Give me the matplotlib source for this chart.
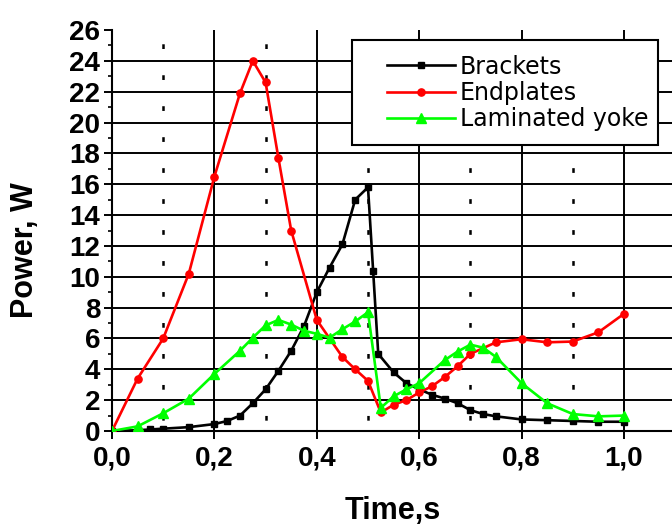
import matplotlib
matplotlib.use("Agg")
import matplotlib.pyplot as plt
from matplotlib.ticker import MultipleLocator, FuncFormatter, FixedLocator
from matplotlib.patches import Rectangle

plt.rcParams['lines.scale_dashes'] = False

# ---- data ----
brackets_t = [0, 0.05, 0.075, 0.1, 0.15, 0.2, 0.225, 0.25, 0.275, 0.3, 0.325, 0.35,
              0.375, 0.4, 0.425, 0.45, 0.475, 0.5, 0.51, 0.52, 0.55, 0.575, 0.6,
              0.625, 0.65, 0.675, 0.7, 0.725, 0.75, 0.8, 0.85, 0.9, 0.95, 1.0]
brackets_p = [0, 0.05, 0.1, 0.15, 0.25, 0.45, 0.65, 1.0, 1.8, 2.7, 3.9, 5.2,
              6.8, 9.0, 10.6, 12.1, 15.0, 15.8, 10.4, 5.0, 3.8, 3.1, 2.7,
              2.35, 2.1, 1.8, 1.35, 1.1, 0.95, 0.75, 0.7, 0.65, 0.6, 0.6]

endplates_t = [0, 0.05, 0.1, 0.15, 0.2, 0.25, 0.275, 0.3, 0.325, 0.35, 0.4, 0.45,
               0.475, 0.5, 0.525, 0.55, 0.575, 0.6, 0.625, 0.65, 0.675, 0.7,
               0.75, 0.8, 0.85, 0.9, 0.95, 1.0]
endplates_p = [0, 3.4, 6.0, 10.2, 16.5, 21.9, 24.0, 22.6, 17.7, 13.0, 7.2, 4.8,
               4.0, 3.25, 1.2, 1.7, 2.0, 2.5, 2.9, 3.5, 4.2, 5.0,
               5.75, 5.95, 5.75, 5.8, 6.4, 7.6]

yoke_t = [0, 0.05, 0.1, 0.15, 0.2, 0.25, 0.275, 0.3, 0.325, 0.35, 0.375, 0.4,
          0.425, 0.45, 0.475, 0.5, 0.525, 0.55, 0.575, 0.6, 0.65, 0.675, 0.7,
          0.725, 0.75, 0.8, 0.85, 0.9, 0.95, 1.0]
yoke_p = [0, 0.3, 1.15, 2.1, 3.7, 5.2, 6.05, 6.85, 7.2, 6.9, 6.5, 6.3,
          6.05, 6.6, 7.1, 7.7, 1.5, 2.25, 2.7, 3.1, 4.6, 5.15, 5.6,
          5.4, 4.8, 3.1, 1.8, 1.1, 0.95, 1.0]

series_names = ["Brackets", "Endplates", "Laminated yoke"]
x_ticks = [0.0, 0.2, 0.4, 0.6, 0.8, 1.0]
y_ticks = list(range(0, 27, 2))

# ---- figure ----
W, H = 672, 525
fig = plt.figure(figsize=(W / 100, H / 100), dpi=100)
ax_left, ax_bottom_px, ax_top_px = 112, 431, 30
ax = fig.add_axes([ax_left / W, (H - ax_bottom_px) / H,
                   (W - ax_left) / W, (ax_bottom_px - ax_top_px) / H])

ax.set_xlim(0, (W - ax_left) / 512.0)
ax.set_ylim(0, 26)

lw = 1.9
ax.plot(brackets_t, brackets_p, color='black', lw=lw, marker='s', ms=4.2,
        label=series_names[0], zorder=3)
ax.plot(endplates_t, endplates_p, color='#ff0000', lw=lw, marker='o', ms=5.2,
        label=series_names[1], zorder=3)
ax.plot(yoke_t, yoke_p, color='#00ff00', lw=lw, marker='^', ms=6.5,
        label=series_names[2], zorder=3)

# ticks
ax.xaxis.set_major_locator(FixedLocator(x_ticks))
ax.xaxis.set_minor_locator(FixedLocator([0.1, 0.3, 0.5, 0.7, 0.9]))
ax.yaxis.set_major_locator(FixedLocator(y_ticks))
ax.yaxis.set_minor_locator(MultipleLocator(1))
ax.xaxis.set_major_formatter(FuncFormatter(lambda v, p: f"{v:.1f}".replace('.', ',')))
ax.yaxis.set_major_formatter(FuncFormatter(lambda v, p: f"{int(round(v))}"))

tick_font = dict(family='Liberation Sans', weight='bold', size=20)
for lab in ax.get_xticklabels() + ax.get_yticklabels():
    lab.set_fontproperties(matplotlib.font_manager.FontProperties(**tick_font))

ax.tick_params(axis='both', which='major', direction='out', length=5.5, width=1.4,
               color='black')
ax.tick_params(axis='y', which='major', pad=3)
ax.tick_params(axis='x', which='major', pad=5)
ax.tick_params(axis='y', which='minor', direction='out', length=3, width=1.2)
ax.tick_params(axis='x', which='minor', length=0)

# grid
ax.grid(which='major', axis='both', color='black', lw=1.4, zorder=0)
ax.yaxis.get_gridlines()[-1].set_visible(False)
ax.grid(which='minor', axis='x', color='black', lw=1.8,
        linestyle=(14.5, (3.4, 18.9)))
ax.set_axisbelow(True)

for s in ['top', 'right']:
    ax.spines[s].set_visible(False)
for s in ['left', 'bottom']:
    ax.spines[s].set_linewidth(1.5)

# labels
fig.text(25 / W, 1 - 250 / H, "Power, W", rotation=90, ha='center', va='center',
         family='Liberation Sans', weight='bold', fontsize=22)
fig.text(393 / W, 1 - 511 / H, "Time,s", ha='center', va='center',
         family='Liberation Sans', weight='bold', fontsize=22)

# legend box
def ax_x(px):
    return (px - ax_left) / (W - ax_left)

def ax_y(py):
    return (ax_bottom_px - py) / (ax_bottom_px - ax_top_px)

rect = Rectangle((ax_x(352), ax_y(145)), ax_x(658) - ax_x(352), ax_y(40) - ax_y(145),
                 transform=ax.transAxes, facecolor='white', edgecolor='black',
                 lw=1.5, zorder=4, clip_on=False)
ax.add_patch(rect)
leg = ax.legend(loc='center left', bbox_to_anchor=(ax_x(375), ax_y(93)),
                frameon=False, borderpad=0, handlelength=2.9, handletextpad=0.2,
                labelspacing=0.1, prop=dict(family='DejaVu Sans', size=17))
leg.set_zorder(5)

fig.savefig("out.png", dpi=100)
